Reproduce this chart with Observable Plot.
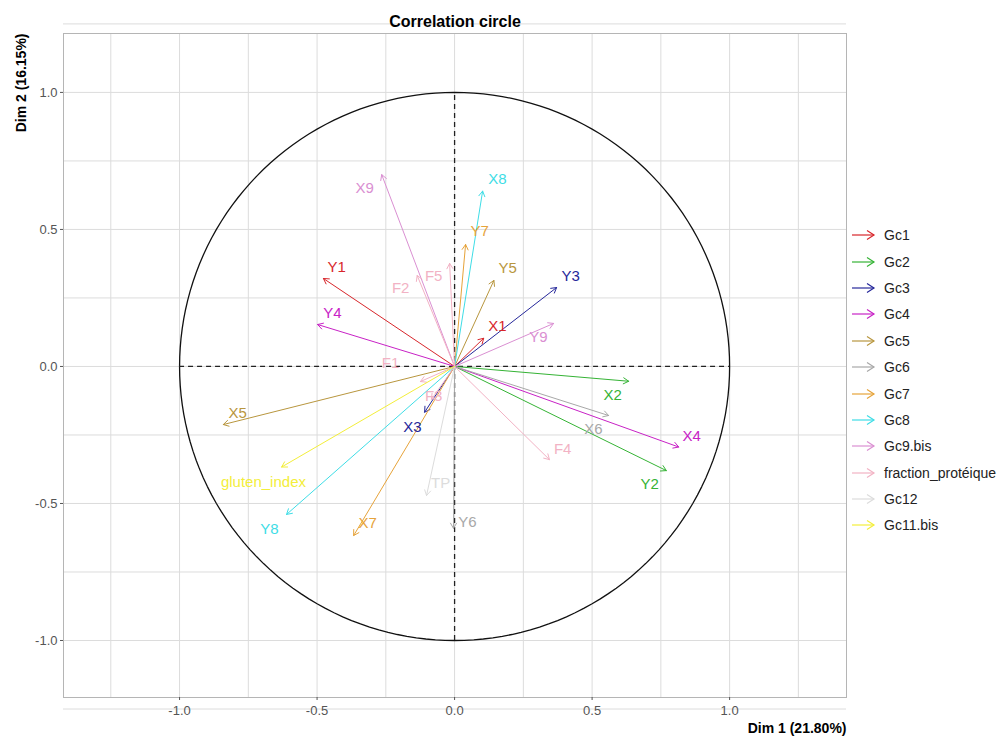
<!DOCTYPE html>
<html>
<head>
<meta charset="utf-8">
<script src="https://cdn.jsdelivr.net/npm/d3@7"></script>
<script src="https://cdn.jsdelivr.net/npm/@observablehq/plot@0.6"></script>
<style>
  html, body { margin: 0; padding: 0; background: #fff; }
  body { font-family: "Liberation Sans", Arial, sans-serif; }
  #wrap { position: relative; width: 1003px; height: 740px; }
  #legend { position: absolute; left: 850px; top: 222px; }
  .lrow { display: flex; align-items: center; height: 26.4px; }
  .lrow span { font-size: 14px; color: #222; margin-left: 8px; }
</style>
</head>
<body>
<div id="wrap"></div>
<script>
// ---- data ----
const groups = ["Gc1","Gc2","Gc3","Gc4","Gc5","Gc6","Gc7","Gc8","Gc9.bis","fraction_protéique","Gc12","Gc11.bis"];
const groupColors = ["#D8262B","#35B335","#25279A","#C822C6","#B8963E","#A8A8A8","#E6A33A","#3EDDE6","#DA8FD2","#F2B2C4","#DCDCDC","#F3EE3A"];

const variables = ["Y1","X1","X2","Y2","Y3","X3","Y4","X4","Y5","X5","X6","Y6","Y7","X7","X8","Y8","X9","Y9","F1","F2","F3","F4","F5","TP","gluten_index"];
const variableGroup = ["Gc1","Gc1","Gc2","Gc2","Gc3","Gc3","Gc4","Gc4","Gc5","Gc5","Gc6","Gc6","Gc7","Gc7","Gc8","Gc8","Gc9.bis","Gc9.bis","fraction_protéique","fraction_protéique","fraction_protéique","fraction_protéique","fraction_protéique","Gc12","Gc11.bis"];
const dim1 = [-0.477, 0.106, 0.633, 0.770, 0.371, -0.109, -0.498, 0.815, 0.143, -0.841, 0.560, -0.004, 0.040, -0.367, 0.102, -0.611, -0.265, 0.360, -0.124, -0.136, -0.084, 0.345, -0.018, -0.102, -0.629];
const dim2 = [0.321, 0.103, -0.054, -0.380, 0.288, -0.167, 0.153, -0.294, 0.314, -0.212, -0.179, -0.591, 0.445, -0.617, 0.640, -0.540, 0.700, 0.157, -0.055, 0.332, -0.120, -0.340, 0.376, -0.471, -0.367];
const labelDim1 = [-0.429, 0.156, 0.575, 0.709, 0.422, -0.153, -0.444, 0.862, 0.193, -0.789, 0.505, 0.047, 0.091, -0.316, 0.156, -0.673, -0.327, 0.305, -0.233, -0.196, -0.076, 0.393, -0.076, -0.051, -0.695];
const labelDim2 = [0.361, 0.146, -0.106, -0.431, 0.328, -0.223, 0.193, -0.255, 0.358, -0.172, -0.230, -0.569, 0.493, -0.573, 0.682, -0.595, 0.650, 0.106, 0.011, 0.285, -0.109, -0.303, 0.328, -0.427, -0.423];

const majorTicks = [-1, -0.5, 0, 0.5, 1];
const gridTicks = [-1.25, -1, -0.75, -0.5, -0.25, 0, 0.25, 0.5, 0.75, 1, 1.25];
const titleText = "Correlation circle";
const xLabel = "Dim 1 (21.80%)";
const yLabel = "Dim 2 (16.15%)";

// ---- build ----
const vars = variables.map((name, i) => ({
  name, group: variableGroup[i], x: dim1[i], y: dim2[i], lx: labelDim1[i], ly: labelDim2[i]
}));
const circle = d3.range(0, 361, 2).map(a => ({x: Math.cos(a * Math.PI / 180), y: Math.sin(a * Math.PI / 180)}));

const chart = Plot.plot({
  width: 1003,
  height: 740,
  marginTop: 33,
  marginBottom: 43,
  marginLeft: 63,
  marginRight: 157,
  style: {fontFamily: "'Liberation Sans', Arial, sans-serif", background: "#fff"},
  x: {domain: [-1.422, 1.425]},
  y: {domain: [-1.208, 1.215]},
  color: {type: "ordinal", domain: groups, range: groupColors},
  marks: [
    Plot.gridX(gridTicks, {stroke: "#dcdcdc", strokeOpacity: 1}),
    Plot.gridY(gridTicks, {stroke: "#dcdcdc", strokeOpacity: 1}),
    Plot.frame({stroke: "#b5b5b5"}),
    Plot.axisX(majorTicks, {tickFormat: d => d.toFixed(1), tickSize: 3, tickPadding: 5, fontSize: 13, color: "#555", label: null}),
    Plot.axisY(majorTicks, {tickFormat: d => d.toFixed(1), tickSize: 3, tickPadding: 3, fontSize: 13, color: "#555", label: null}),
    Plot.line(circle, {x: "x", y: "y", stroke: "#111", strokeWidth: 1.3}),
    Plot.ruleY([0], {x1: -1, x2: 1, stroke: "#222", strokeWidth: 1.3, strokeDasharray: "5,4"}),
    Plot.ruleX([0], {y1: -1, y2: 1, stroke: "#222", strokeWidth: 1.3, strokeDasharray: "5,4"}),
    Plot.arrow(vars, {x1: 0, y1: 0, x2: "x", y2: "y", stroke: "group", strokeWidth: 1, headLength: 9, headAngle: 60}),
    Plot.text(vars, {x: "lx", y: "ly", text: "name", fill: "group", fontSize: 15}),
    Plot.text([titleText], {frameAnchor: "top", dy: -18, fontSize: 16, fontWeight: "bold", fill: "#000"}),
    Plot.text([xLabel], {frameAnchor: "bottom-right", textAnchor: "end", dy: 35, fontSize: 14, fontWeight: "bold", fill: "#000"}),
    Plot.text([yLabel], {frameAnchor: "top-left", textAnchor: "end", rotate: -90, dx: -47, fontSize: 14, fontWeight: "bold", fill: "#000"})
  ]
});
const wrap = document.getElementById("wrap");
wrap.appendChild(chart);

// legend
const legend = document.createElement("div");
legend.id = "legend";
groups.forEach((g, i) => {
  const row = document.createElement("div");
  row.className = "lrow";
  const svg = d3.create("svg").attr("width", 26).attr("height", 14);
  svg.append("line").attr("x1", 2).attr("y1", 7).attr("x2", 24).attr("y2", 7).attr("stroke", groupColors[i]).attr("stroke-width", 1.2);
  svg.append("path").attr("d", "M17,2.5 L24,7 L17,11.5").attr("fill", "none").attr("stroke", groupColors[i]).attr("stroke-width", 1.2);
  row.appendChild(svg.node());
  const s = document.createElement("span");
  s.textContent = g;
  row.appendChild(s);
  legend.appendChild(row);
});
wrap.appendChild(legend);
</script>
</body>
</html>
